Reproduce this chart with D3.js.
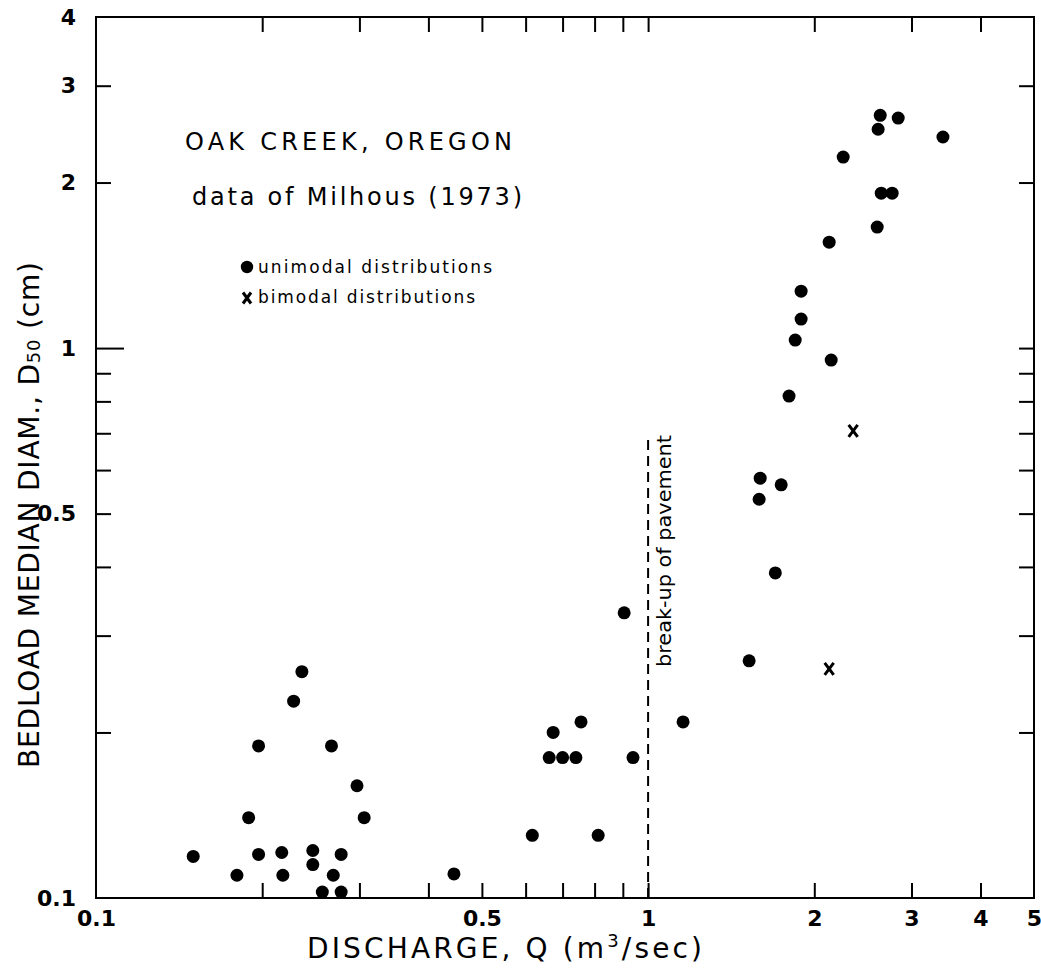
<!DOCTYPE html>
<html>
<head>
<meta charset="utf-8">
<script src="https://cdn.jsdelivr.net/npm/d3@7/dist/d3.min.js"></script>
<style>
  html, body { margin: 0; padding: 0; background: #fff; }
  svg { display: block; }
  text { font-family: "DejaVu Sans", sans-serif; fill: #000; }
</style>
</head>
<body>
<div id="chart"></div>
<script>
// ---- data ----
const uniQ = [0.150, 0.180, 0.189, 0.197, 0.197, 0.217, 0.218, 0.228, 0.236, 0.247,
              0.247, 0.257, 0.267, 0.269, 0.278, 0.278, 0.297, 0.306, 0.445, 0.617,
              0.673, 0.662, 0.700, 0.740, 0.756, 0.812, 0.905, 0.939, 1.157, 1.524,
              1.589, 1.596, 1.700, 1.742, 1.800, 1.847, 1.893, 1.893, 2.128, 2.146,
              2.256, 2.600, 2.610, 2.633, 2.644, 2.767, 2.838, 3.420];
const uniD = [0.119, 0.110, 0.140, 0.189, 0.120, 0.121, 0.110, 0.228, 0.258, 0.122,
              0.115, 0.1025, 0.189, 0.110, 0.1025, 0.120, 0.160, 0.140, 0.1106, 0.130,
              0.200, 0.180, 0.180, 0.180, 0.209, 0.130, 0.330, 0.180, 0.209, 0.270,
              0.531, 0.580, 0.390, 0.564, 0.818, 1.034, 1.129, 1.269, 1.558, 0.951,
              2.225, 1.660, 2.500, 2.650, 1.913, 1.913, 2.620, 2.420];
const biQ = [2.352, 2.128];
const biD = [0.707, 0.261];

const pavementQ = 1;
const pavementD = [0.1, 0.69];

const xTickValues = [0.2, 0.3, 0.4, 0.5, 0.6, 0.7, 0.8, 0.9, 1, 2, 3, 4];
const xLabelValues = [0.1, 0.5, 1, 2, 3, 4, 5];
const yTickValues = [0.2, 0.3, 0.4, 0.5, 0.6, 0.7, 0.8, 0.9, 1, 2, 3];
const yLabelValues = [0.1, 0.5, 1, 2, 3, 4];

// ---- layout ----
const W = 1041, H = 969;
const svg = d3.select("#chart").append("svg").attr("width", W).attr("height", H);
svg.append("rect").attr("width", W).attr("height", H).attr("fill", "#fff");

const x = d3.scaleLog().domain([0.1, 5]).range([96, 1034]);
const y = d3.scaleLog().domain([0.1, 4]).range([898, 17]);
const fmt = d => String(d);

// ticks (inward) on all four sides
const tk = 15;
const gb = svg.append("g").attr("transform", `translate(0,${y(0.1)})`)
  .call(d3.axisBottom(x).tickValues(xTickValues).tickSize(-tk).tickFormat(""));
const gt = svg.append("g").attr("transform", `translate(0,${y(4)})`)
  .call(d3.axisTop(x).tickValues(xTickValues).tickSize(-tk).tickFormat(""));
const gl = svg.append("g").attr("transform", `translate(${x(0.1)},0)`)
  .call(d3.axisLeft(y).tickValues(yTickValues).tickSize(-tk).tickFormat(""));
const gr = svg.append("g").attr("transform", `translate(${x(5)},0)`)
  .call(d3.axisRight(y).tickValues(yTickValues).tickSize(-tk).tickFormat(""));
[gb, gt, gl, gr].forEach(g => {
  g.select(".domain").remove();
  g.selectAll(".tick line").attr("stroke", "#000").attr("stroke-width", 2);
});
// longer major tick at D = 1 on the left
gl.selectAll(".tick").filter(d => d === 1).select("line").attr("x2", 28);

// tick labels
const lb = svg.append("g").attr("transform", `translate(0,${y(0.1)})`)
  .call(d3.axisBottom(x).tickValues(xLabelValues).tickSize(0).tickPadding(12).tickFormat(fmt));
const ll = svg.append("g").attr("transform", `translate(${x(0.1)},0)`)
  .call(d3.axisLeft(y).tickValues(yLabelValues).tickSize(0).tickPadding(20).tickFormat(fmt));
[lb, ll].forEach(g => {
  g.select(".domain").remove();
  g.selectAll("text").attr("font-family", "DejaVu Sans, sans-serif")
    .attr("font-size", 22).attr("font-weight", "bold").attr("fill", "#000");
});

// frame
svg.append("rect")
  .attr("x", x(0.1)).attr("y", y(4))
  .attr("width", x(5) - x(0.1)).attr("height", y(0.1) - y(4))
  .attr("fill", "none").attr("stroke", "#000").attr("stroke-width", 2);

// pavement break-up line
svg.append("line")
  .attr("x1", x(pavementQ)).attr("x2", x(pavementQ))
  .attr("y1", y(pavementD[0])).attr("y2", y(pavementD[1]))
  .attr("stroke", "#000").attr("stroke-width", 2).attr("stroke-dasharray", "10,6");
svg.append("text")
  .attr("transform", `translate(${x(pavementQ) + 23},551) rotate(-90)`)
  .attr("text-anchor", "middle").attr("font-size", 19)
  .attr("textLength", 232).attr("lengthAdjust", "spacingAndGlyphs")
  .text("break-up of pavement");

// data points
const uni = uniQ.map((q, i) => ({ q, d: uniD[i] }));
const bi = biQ.map((q, i) => ({ q, d: biD[i] }));
svg.append("g").selectAll("circle").data(uni).join("circle")
  .attr("cx", p => x(p.q)).attr("cy", p => y(p.d)).attr("r", 6.5).attr("fill", "#000");
const crossPath = (cx, cy, hw, hh) =>
  `M${cx - hw},${cy - hh}L${cx + hw},${cy + hh}M${cx + hw},${cy - hh}L${cx - hw},${cy + hh}`;
svg.append("g").selectAll("path").data(bi).join("path")
  .attr("d", p => crossPath(x(p.q), y(p.d), 4.5, 6))
  .attr("stroke", "#000").attr("stroke-width", 3).attr("fill", "none");

// titles
svg.append("text").attr("x", 185).attr("y", 150).attr("font-size", 24)
  .attr("textLength", 327).attr("lengthAdjust", "spacing").text("OAK CREEK, OREGON");
svg.append("text").attr("x", 192).attr("y", 205).attr("font-size", 24)
  .attr("textLength", 330).attr("lengthAdjust", "spacing").text("data of Milhous (1973)");

// legend
svg.append("circle").attr("cx", 247).attr("cy", 267).attr("r", 6.2).attr("fill", "#000");
svg.append("text").attr("x", 258).attr("y", 273).attr("font-size", 17)
  .attr("textLength", 234).attr("lengthAdjust", "spacing").text("unimodal distributions");
svg.append("path").attr("d", crossPath(247, 298, 4, 5.5))
  .attr("stroke", "#000").attr("stroke-width", 3).attr("fill", "none");
svg.append("text").attr("x", 258).attr("y", 303).attr("font-size", 17)
  .attr("textLength", 217).attr("lengthAdjust", "spacing").text("bimodal distributions");

// axis titles
const xt = svg.append("text").attr("x", 307).attr("y", 958).attr("font-size", 28)
  .attr("textLength", 395).attr("lengthAdjust", "spacing");
xt.append("tspan").text("DISCHARGE,  Q  (m");
xt.append("tspan").attr("font-size", 18).attr("dy", -11).text("3");
xt.append("tspan").attr("dy", 11).text("/sec)");

const yt = svg.append("text").attr("transform", "translate(39,515) rotate(-90)")
  .attr("text-anchor", "middle").attr("font-size", 28)
  .attr("textLength", 506).attr("lengthAdjust", "spacing");
yt.append("tspan").text("BEDLOAD  MEDIAN  DIAM.,  D");
yt.append("tspan").attr("font-size", 18).attr("dy", 1).text("50");
yt.append("tspan").attr("dy", -1).text("  (cm)");
</script>
</body>
</html>
